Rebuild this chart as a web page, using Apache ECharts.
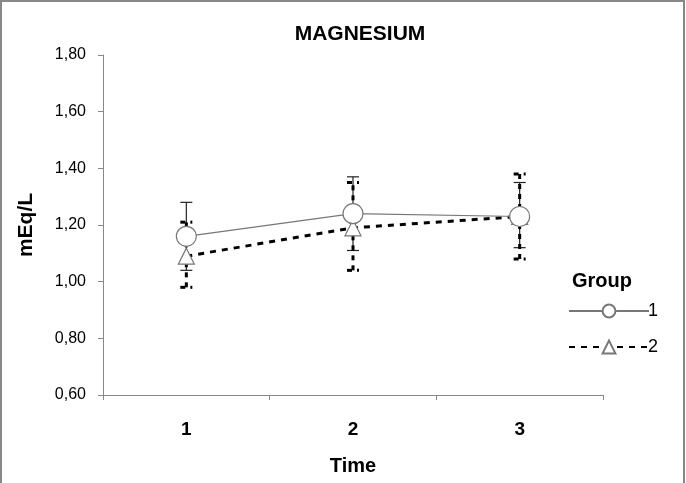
<!DOCTYPE html>
<html><head><meta charset="utf-8">
<script src="https://cdn.jsdelivr.net/npm/echarts@6/dist/echarts.min.js"></script>
<style>html,body{margin:0;padding:0;background:#fff}#c{width:686px;height:483px}</style>
</head><body><div id="c"></div>
<script>
const categories = ['1', '2', '3'];
const group1 = [1.16, 1.24, 1.23];
const group1Low = [1.04, 1.11, 1.12];
const group1High = [1.28, 1.37, 1.35];
const group2 = [1.09, 1.19, 1.23];
const group2Low = [0.98, 1.04, 1.08];
const group2High = [1.21, 1.35, 1.38];
const yTicks = [0.6, 0.8, 1.0, 1.2, 1.4, 1.6, 1.8];

const FONT = 'Liberation Sans';
const chart = echarts.init(document.getElementById('c'));

function errRender(dash, width, color) {
  return function (params, api) {
    const x = api.value(0);
    const lo = api.coord([x, api.value(1)]);
    const hi = api.coord([x, api.value(2)]);
    const cw = 6;
    const style = { stroke: color, lineWidth: width, lineDash: dash };
    return {
      type: 'group',
      children: [
        { type: 'line', shape: { x1: lo[0], y1: lo[1], x2: hi[0], y2: hi[1] }, style: style },
        { type: 'line', shape: { x1: lo[0] - cw, y1: lo[1], x2: lo[0] + cw, y2: lo[1] }, style: style },
        { type: 'line', shape: { x1: hi[0] - cw, y1: hi[1], x2: hi[0] + cw, y2: hi[1] }, style: style }
      ]
    };
  };
}

chart.setOption({
  animation: false,
  backgroundColor: '#fff',
  title: {
    text: 'MAGNESIUM', left: 355, top: 19, textAlign: 'center',
    textStyle: { fontFamily: FONT, fontSize: 21, fontWeight: 'bold', color: '#000' }
  },
  grid: { left: 103, top: 55, right: 83, bottom: 88, containLabel: false, outerBoundsMode: 'none' },
  legend: {
    orient: 'vertical', left: 563, top: 297, itemGap: 18,
    itemWidth: 80, itemHeight: 16,
    textStyle: { fontFamily: FONT, fontSize: 18, color: '#000', padding: [0, 0, 0, -6] },
    data: [{ name: '1' }, { name: '2' }]
  },
  graphic: [
    { type: 'rect', shape: { x: 1, y: 1, width: 683, height: 490 }, style: { fill: 'none', stroke: '#888', lineWidth: 2 }, silent: true },
    { type: 'text', x: 572, y: 271, style: { text: 'Group', font: 'bold 20px "Liberation Sans"', fill: '#000' } }
  ],
  xAxis: {
    type: 'category', data: categories, boundaryGap: true,
    name: 'Time', nameLocation: 'middle', nameGap: 61,
    nameTextStyle: { fontFamily: FONT, fontSize: 20, fontWeight: 'bold', color: '#000' },
    axisLine: { lineStyle: { color: '#888', width: 1 } },
    axisTick: { show: true, length: 5, lineStyle: { color: '#888' } },
    axisLabel: { fontFamily: FONT, fontSize: 19, fontWeight: 'bold', color: '#000', margin: 25 }
  },
  yAxis: {
    type: 'value', min: 0.6, max: 1.8, interval: 0.2,
    name: 'mEq/L', nameLocation: 'middle', nameGap: 66, nameRotate: 90,
    nameTextStyle: { fontFamily: FONT, fontSize: 21, fontWeight: 'bold', color: '#000' },
    splitLine: { show: false },
    axisLine: { show: true, lineStyle: { color: '#888', width: 1 } },
    axisTick: { show: true, length: 5, lineStyle: { color: '#888' } },
    axisLabel: {
      fontFamily: FONT, fontSize: 16, color: '#000', margin: 17,
      formatter: v => v.toFixed(2).replace('.', ',')
    }
  },
  series: [
    {
      type: 'custom', name: 'err1', z: 2,
      renderItem: errRender(null, 1.2, '#222'),
      data: categories.map((c, i) => [i, group1Low[i], group1High[i]]),
      encode: { x: 0, y: [1, 2] }, silent: true
    },
    {
      type: 'custom', name: 'err2', z: 2,
      renderItem: errRender([5, 5], 3, '#000'),
      data: categories.map((c, i) => [i, group2Low[i], group2High[i]]),
      encode: { x: 0, y: [1, 2] }, silent: true
    },
    {
      type: 'line', name: '2', data: group2, z: 3,
      symbol: 'triangle', symbolSize: 16,
      lineStyle: { color: '#000', width: 3, type: [6, 6] },
      itemStyle: { color: '#fff', borderColor: '#777', borderWidth: 1.2 }
    },
    {
      type: 'line', name: '1', data: group1, z: 4,
      symbol: 'circle', symbolSize: 20,
      lineStyle: { color: '#777', width: 1.2 },
      itemStyle: { color: '#fff', borderColor: '#777', borderWidth: 1.2 }
    }
  ]
});
</script></body></html>
